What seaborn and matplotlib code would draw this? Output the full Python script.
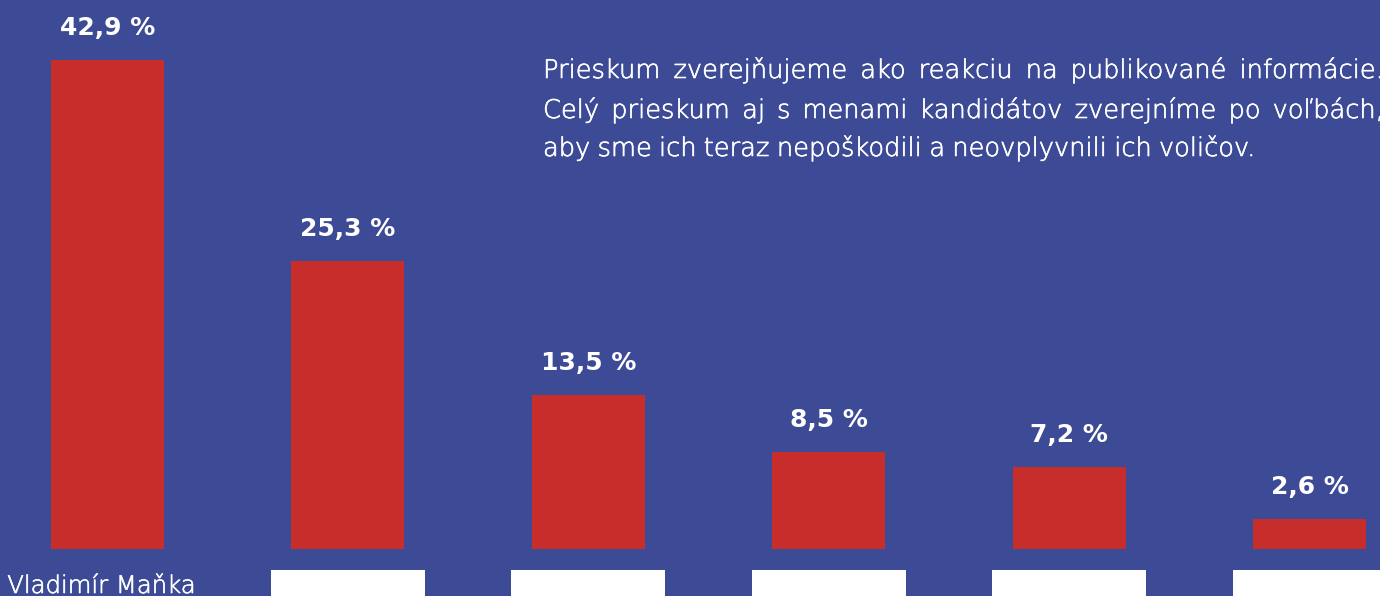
import numpy as np
import pandas as pd
import matplotlib
matplotlib.use("Agg")
import matplotlib.pyplot as plt
import matplotlib.patheffects as pe
import seaborn as sns

# data
candidates = ["Vladimír Maňka", "kandidát 2", "kandidát 3", "kandidát 4", "kandidát 5", "kandidát 6"]
hidden = [False, True, True, True, True, True]
values = [42.9, 25.3, 13.5, 8.5, 7.2, 2.6]

note_lines = [
    "Prieskum zverejňujeme ako reakciu na publikované informácie.",
    "Celý prieskum aj s menami kandidátov zverejníme po voľbách,",
    "aby sme ich teraz nepoškodili a neovplyvnili ich voličov.",
]

BG = "#3d4a96"
RED = "#c62d2b"
thicker = [pe.withStroke(linewidth=0.45, foreground="white")]

sns.set_theme(style="white")
plt.rcParams["font.family"] = ["DejaVu Sans"]

W, H = 1380, 596
fig = plt.figure(figsize=(W / 100, H / 100), dpi=100, facecolor=BG)
ax = fig.add_axes([0, 0, 1, 1])
ax.set_facecolor(BG)

df = pd.DataFrame({"kandidat": candidates, "podiel": values})
sns.barplot(data=df, x="kandidat", y="podiel", color=RED, saturation=1,
            width=0.47, linewidth=0, ax=ax)

px = 11.4  # pixels per percent
ax.set_xlim(-0.447, 5.293)
ax.set_ylim(-47 / px, 549 / px)
ax.axis("off")

# value labels above bars
for p, v in zip(ax.patches, values):
    ax.annotate(f"{v:.1f} %".replace(".", ","),
                (p.get_x() + p.get_width() / 2, p.get_height()),
                xytext=(0, 18), textcoords="offset points",
                ha="center", va="baseline", color="white",
                fontsize=18, fontweight="bold")

# names: first one shown, the rest covered by white boxes
pos = np.arange(len(candidates))
mask = np.array(hidden)
ax.bar(pos[mask], 4, bottom=-21 / px - 4, width=0.64, color="white", linewidth=0)
for i in pos[~mask]:
    ax.text(i - 0.025, -44 / px, candidates[i], ha="center", va="baseline",
            color="white", fontsize=17.5, fontweight="light",
            path_effects=thicker)

# justified note text
renderer = fig.canvas.get_renderer()
x0, x1 = 543, 1384
fs = 18.5
for k, (line, ypix) in enumerate(zip(note_lines, [78, 118, 156])):
    words = line.split(" ")
    texts = [fig.text(0, 1 - ypix / H, w, color="white", fontsize=fs,
                      fontweight="light", va="baseline", path_effects=thicker)
             for w in words]
    widths = [t.get_window_extent(renderer).width for t in texts]
    if k < len(note_lines) - 1:
        gap = (x1 - x0 - sum(widths)) / (len(words) - 1)
    else:
        gap = 0.28 * fs * 100 / 72
    x = x0
    for t, w in zip(texts, widths):
        t.set_x(x / W)
        x += w + gap

fig.savefig("out.png", dpi=100, facecolor=BG)
